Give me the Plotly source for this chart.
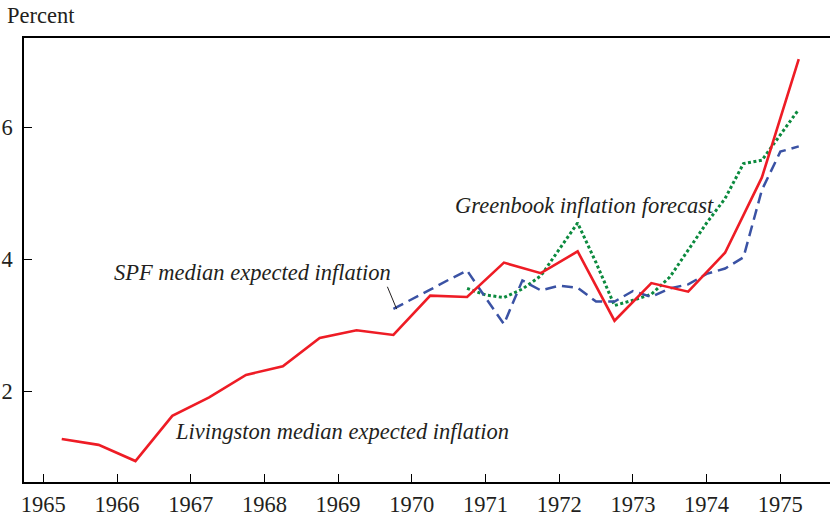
import plotly.graph_objects as go

# Livingston median expected inflation (semiannual)
liv_x = [1965.25, 1965.75, 1966.25, 1966.75, 1967.25, 1967.75, 1968.25, 1968.75,
         1969.25, 1969.75, 1970.25, 1970.75, 1971.25, 1971.75, 1972.25, 1972.75,
         1973.25, 1973.75, 1974.25, 1974.75, 1975.25]
liv_y = [1.28, 1.19, 0.945, 1.63, 1.91, 2.25, 2.38, 2.81,
         2.925, 2.855, 3.45, 3.43, 3.95, 3.79, 4.12, 3.07,
         3.64, 3.51, 4.10, 5.24, 7.03]

# SPF median expected inflation (quarterly)
spf_x = [1969.75, 1970.0, 1970.25, 1970.5, 1970.75, 1971.0, 1971.25, 1971.5, 1971.75,
         1972.0, 1972.25, 1972.5, 1972.75, 1973.0, 1973.25, 1973.5, 1973.75,
         1974.0, 1974.25, 1974.5, 1974.75, 1975.0, 1975.25]
spf_y = [3.25, 3.39, 3.54, 3.69, 3.83, 3.42, 3.02, 3.68, 3.53,
         3.60, 3.57, 3.36, 3.36, 3.52, 3.43, 3.56, 3.62,
         3.78, 3.86, 4.03, 5.05, 5.63, 5.71]

# Greenbook inflation forecast (quarterly)
gb_x = [1970.75, 1971.0, 1971.25, 1971.5, 1971.75, 1972.0, 1972.25, 1972.5, 1972.75,
        1973.0, 1973.25, 1973.5, 1973.75, 1974.0, 1974.25, 1974.5, 1974.75, 1975.0, 1975.25]
gb_y = [3.56, 3.46, 3.42, 3.55, 3.75, 4.15, 4.55, 3.95, 3.30,
        3.38, 3.47, 3.73, 4.15, 4.55, 4.92, 5.45, 5.50, 5.88, 6.27]

x_ticks = [1965, 1966, 1967, 1968, 1969, 1970, 1971, 1972, 1973, 1974, 1975]
y_ticks = [2, 4, 6]

SERIF = "Liberation Serif, Times New Roman, serif"
TXT = "#231f20"
FS = 22.5

fig = go.Figure()
fig.add_trace(go.Scatter(x=gb_x, y=gb_y, mode="lines",
                         line=dict(color="#0b8a3e", width=3, dash="3px,2.5px"),
                         name="Greenbook inflation forecast"))
fig.add_trace(go.Scatter(x=spf_x, y=spf_y, mode="lines",
                         line=dict(color="#3a52a4", width=2.5, dash="11px,6px"),
                         name="SPF median expected inflation"))
fig.add_trace(go.Scatter(x=liv_x, y=liv_y, mode="lines",
                         line=dict(color="#ee1c25", width=2.6),
                         name="Livingston median expected inflation"))

ann_font = dict(family=SERIF, size=FS, color=TXT)
fig.add_annotation(x=1965.93, y=3.805, text="<i>SPF median expected inflation</i>",
                   showarrow=False, xanchor="left", yanchor="middle", font=ann_font)
fig.add_annotation(x=1970.56, y=4.81, text="<i>Greenbook inflation forecast</i>",
                   showarrow=False, xanchor="left", yanchor="middle", font=ann_font)
fig.add_annotation(x=1966.76, y=1.387, text="<i>Livingston median expected inflation</i>",
                   showarrow=False, xanchor="left", yanchor="middle", font=ann_font)
fig.add_annotation(x=1969.795, y=3.245, ax=1969.66, ay=3.607, axref="x", ayref="y",
                   text="", showarrow=True, arrowhead=0, arrowwidth=1, arrowcolor="#231f20")
fig.add_annotation(x=-0.024, y=1.051, xref="paper", yref="paper", text="Percent",
                   showarrow=False, xanchor="left", yanchor="middle",
                   font=dict(family=SERIF, size=FS, color=TXT))

fig.update_layout(
    width=830, height=517,
    margin=dict(l=24, r=0, t=38, b=29),
    paper_bgcolor="white", plot_bgcolor="white",
    showlegend=False,
    font=dict(family=SERIF, size=FS, color=TXT),
    xaxis=dict(range=[1964.738, 1975.674], tickmode="array", tickvals=x_ticks,
               ticktext=[str(t) for t in x_ticks],
               ticks="inside", ticklen=8, tickwidth=1.2, tickcolor="black",
               showline=True, linecolor="black", linewidth=1.5, mirror=True,
               showgrid=False, zeroline=False, ticklabelstandoff=1),
    yaxis=dict(range=[0.628, 7.351], tickmode="array", tickvals=y_ticks,
               ticktext=[str(t) for t in y_ticks],
               ticks="inside", ticklen=8, tickwidth=1.2, tickcolor="black",
               showline=True, linecolor="black", linewidth=1.5,
               showgrid=False, zeroline=False, ticklabelstandoff=5),
)

fig.write_html("out.html", config={"displayModeBar": False},
               post_script="document.body.style.margin='0';")
